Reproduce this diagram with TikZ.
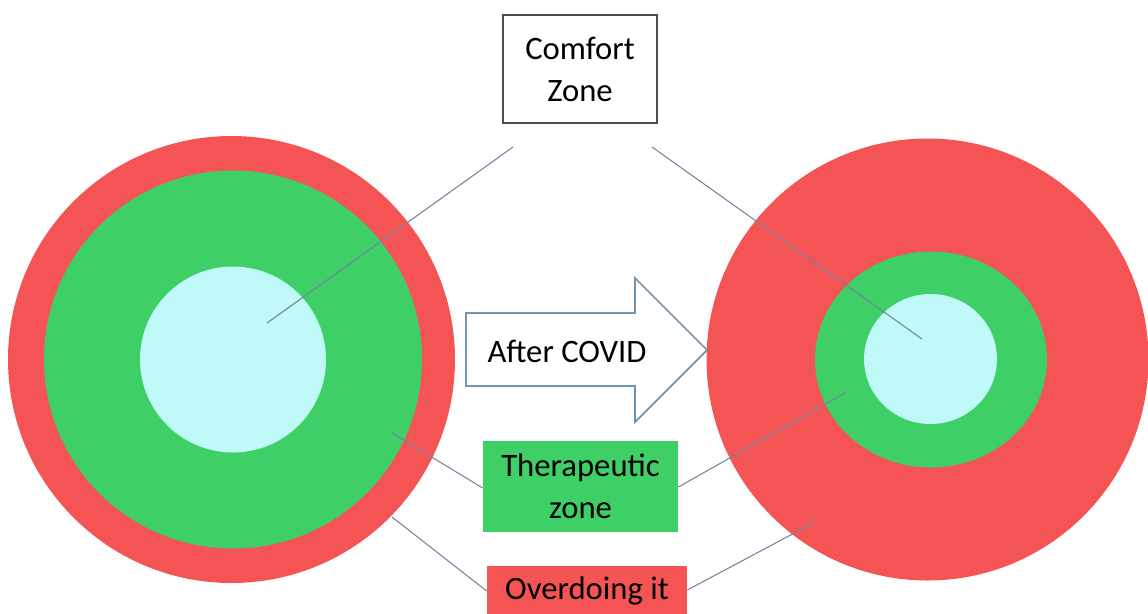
\documentclass[tikz,border=0pt]{standalone}
\usepackage{fontspec}
\setmainfont{Carlito}
\usetikzlibrary{positioning}
\definecolor{zonered}{HTML}{F55455}
\definecolor{zonegreen}{HTML}{3ECF67}
\definecolor{zonecyan}{HTML}{BFF9F8}
\definecolor{linkgray}{HTML}{73849A}
\definecolor{arrowblue}{HTML}{7096B3}

\begin{document}
\begin{tikzpicture}[x=0.02cm,y=-0.02cm,
	font=\fontsize{18.6}{24}\selectfont,
	label/.style={align=center,inner sep=0pt},
	link/.style={draw=linkgray,line width=0.6pt}]

	\useasboundingbox (0,0) rectangle (1148,613);
	\clip (0,0) rectangle (1148,613);

	% before: the three zones
	\fill[zonered] (231.5,359.5) circle (223.5);
	\fill[zonegreen] (233,359.5) circle (189);
	\fill[zonecyan] (233,359.5) circle (93);

	% after: the comfort and therapeutic zones shrink
	\fill[zonered] (927.5,359.5) circle (221);
	\fill[zonegreen] (931,359.5) ellipse (116 and 108);
	\fill[zonecyan] (930.5,359) ellipse (66.5 and 65);

	% the labels
	\node[label,draw=black!70,line width=0.8pt,minimum width=154*0.02cm,minimum height=108*0.02cm] (comfort) at (580,69) {Comfort\\Zone};
	\node[label,fill=zonegreen,minimum width=195*0.02cm,minimum height=91*0.02cm] (therapeutic) at (580.5,486.5) {Therapeutic\\zone};
	\node[label,fill=zonered,minimum width=200*0.02cm,minimum height=70*0.02cm] (overdoing) at (587,601) {};
	\node[label] (overtext) at (587,591) {Overdoing it};

	% the big arrow
	\draw[arrowblue,line width=1pt,fill=white] (466,313) -- (635,313) -- (635,278) -- (707,350)
		-- (635,422) -- (635,386) -- (466,386) -- cycle;
	\node[label] (after) at (567,351) {After COVID};

	% ends of the pointers
	\coordinate (c1) at (513,147);
	\coordinate (c2) at (652,147);
	\coordinate (cl) at (267,323);
	\coordinate (cr) at (922,339);
	\coordinate (tl) at (392,433);
	\coordinate (tr) at (845,393);
	\coordinate (ol) at (392,517);
	\coordinate (or) at (815,522);

	\draw[link] (c1) -- (cl);
	\draw[link] (c2) -- (cr);
	\draw[link] (tl) -- (therapeutic.west |- 0,488);
	\draw[link] (therapeutic.east |- 0,487) -- (tr);
	\draw[link] (ol) -- (overdoing.west |- 0,591);
	\draw[link] (overdoing.east |- 0,590) -- (or);

\end{tikzpicture}
\end{document}
